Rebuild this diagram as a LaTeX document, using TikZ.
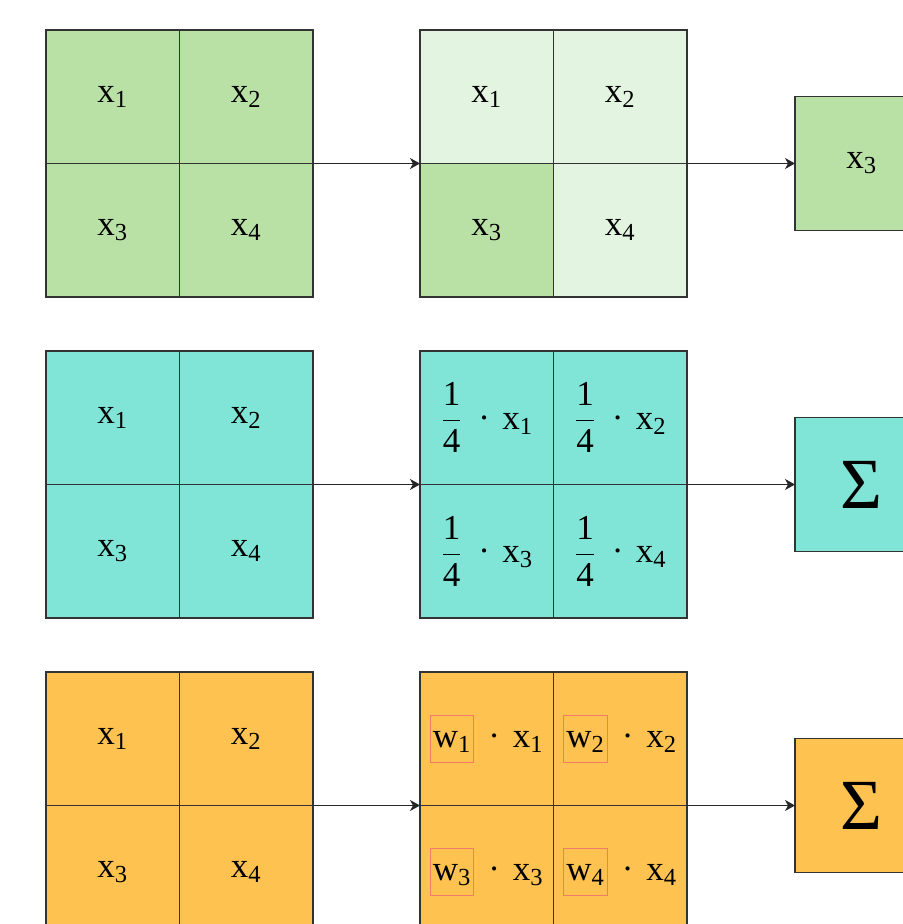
\documentclass[tikz,border=0pt]{standalone}
\usepackage{fontspec}
\setmainfont{Liberation Serif}
\usepackage{xcolor}
\usetikzlibrary{arrows.meta,positioning}

\definecolor{maxfill}{HTML}{B9E0A5}
\definecolor{maxlight}{HTML}{E3F5E1}
\definecolor{avgfill}{HTML}{80E4D7}
\definecolor{lrnfill}{HTML}{FDC24F}
\definecolor{wred}{HTML}{F07C6C}

\newcommand{\xs}[1]{x\textsubscript{#1}}
\newcommand{\quart}{$\displaystyle\frac{\mbox{1}}{\mbox{4}}$}
\newcommand{\avgterm}[1]{\quart\hspace{0.45em}·\hspace{0.35em}\xs{#1}}
\newcommand{\wbox}[1]{{\setlength{\fboxsep}{1pt}\setlength{\fboxrule}{0.5pt}\fcolorbox{wred}{lrnfill}{\strut w\textsubscript{#1}}}}
\newcommand{\lrnterm}[1]{\wbox{#1}\hspace{0.4em}·\hspace{0.37em}\xs{#1}}

\begin{document}
\begin{tikzpicture}[
    x=1pt, y=1pt,
    node distance=0pt,
    font=\fontsize{17.5}{21}\selectfont,
    cell/.style={draw=black!80, line width=0.6pt, minimum size=66.75pt, inner sep=0pt, outer sep=0pt},
    arr/.style={-{Stealth[length=5pt,width=5.5pt,inset=1.5pt]}, line width=0.6pt, draw=black!85}
]
\useasboundingbox (0,0) rectangle (451,-462);

% max pooling
\node[cell, fill=maxfill, anchor=north west] (max1) at (23,-15) {\xs{1}};
\node[cell, fill=maxfill, right=of max1] (max2) {\xs{2}};
\node[cell, fill=maxfill, below=of max1] (max3) {\xs{3}};
\node[cell, fill=maxfill, right=of max3] (max4) {\xs{4}};
\node[cell, fill=maxlight, right=53.5pt of max2] (maxp1) {\xs{1}};
\node[cell, fill=maxlight, right=of maxp1] (maxp2) {\xs{2}};
\node[cell, fill=maxfill, below=of maxp1] (maxp3) {\xs{3}};
\node[cell, fill=maxlight, right=of maxp3] (maxp4) {\xs{4}};
\node[cell, fill=maxfill, right=54pt of maxp2.south east] (maxout) {\xs{3}};

% average pooling
\node[cell, fill=avgfill, below=27pt of max3] (avg1) {\xs{1}};
\node[cell, fill=avgfill, right=of avg1] (avg2) {\xs{2}};
\node[cell, fill=avgfill, below=of avg1] (avg3) {\xs{3}};
\node[cell, fill=avgfill, right=of avg3] (avg4) {\xs{4}};
\node[cell, fill=avgfill, right=53.5pt of avg2] (avgw1) {\avgterm{1}};
\node[cell, fill=avgfill, right=of avgw1] (avgw2) {\avgterm{2}};
\node[cell, fill=avgfill, below=of avgw1] (avgw3) {\avgterm{3}};
\node[cell, fill=avgfill, right=of avgw3] (avgw4) {\avgterm{4}};
\node[cell, fill=avgfill, font=\fontsize{36}{40}\selectfont, right=54pt of avgw2.south east] (avgout) {Σ};

% learned weights
\node[cell, fill=lrnfill, below=27pt of avg3] (lrn1) {\xs{1}};
\node[cell, fill=lrnfill, right=of lrn1] (lrn2) {\xs{2}};
\node[cell, fill=lrnfill, below=of lrn1] (lrn3) {\xs{3}};
\node[cell, fill=lrnfill, right=of lrn3] (lrn4) {\xs{4}};
\node[cell, fill=lrnfill, right=53.5pt of lrn2] (lrnw1) {\lrnterm{1}};
\node[cell, fill=lrnfill, right=of lrnw1] (lrnw2) {\lrnterm{2}};
\node[cell, fill=lrnfill, below=of lrnw1] (lrnw3) {\lrnterm{3}};
\node[cell, fill=lrnfill, right=of lrnw3] (lrnw4) {\lrnterm{4}};
\node[cell, fill=lrnfill, font=\fontsize{36}{40}\selectfont, right=54pt of lrnw2.south east] (lrnout) {Σ};

\draw[arr] (max2.south east) -- (maxp1.south west);
\draw[arr] (maxp2.south east) -- (maxout);
\draw[arr] (avg2.south east) -- (avgw1.south west);
\draw[arr] (avgw2.south east) -- (avgout);
\draw[arr] (lrn2.south east) -- (lrnw1.south west);
\draw[arr] (lrnw2.south east) -- (lrnout);
\end{tikzpicture}
\end{document}
